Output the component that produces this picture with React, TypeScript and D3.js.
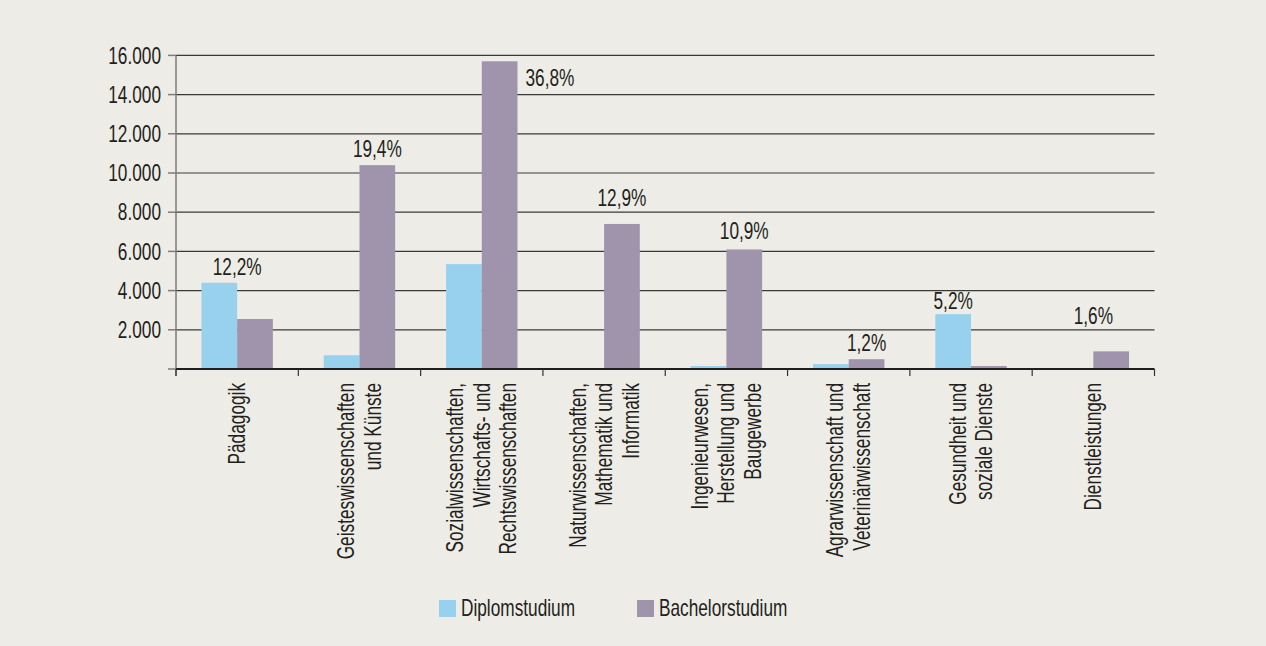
import React from "react";
import * as d3 from "d3";

const categories: string[][] = [
  ["Pädagogik"],
  ["Geisteswissenschaften", "und Künste"],
  ["Sozialwissenschaften,", "Wirtschafts- und", "Rechtswissenschaften"],
  ["Naturwissenschaften,", "Mathematik und", "Informatik"],
  ["Ingenieurwesen,", "Herstellung und", "Baugewerbe"],
  ["Agrarwissenschaft und", "Veterinärwissenschaft"],
  ["Gesundheit und", "soziale Dienste"],
  ["Dienstleistungen"],
];
const seriesNames = ["Diplomstudium", "Bachelorstudium"];
const diplom = [4400, 700, 5350, 0, 150, 250, 2800, 0];
const bachelor = [2550, 10400, 15700, 7400, 6100, 500, 150, 900];
const shareLabels = ["12,2%", "19,4%", "36,8%", "12,9%", "10,9%", "1,2%", "5,2%", "1,6%"];
const shareAnchor = ["group", "bachelor", "right", "bachelor", "bachelor", "bachelor", "diplom", "group"];
const shareLabelValue = [4800, 10800, 14450, 8300, 6650, 900, 3050, 2300];
const yTicks = [0, 2000, 4000, 6000, 8000, 10000, 12000, 14000, 16000];
const tickFormat = (v: number) => (v === 0 ? "" : d3.format(",")(v).replace(/,/g, "."));

const W = 1266;
const H = 646;
const colors = ["#98D1EE", "#A093AC"];
const FONT = "'Liberation Sans', Arial, sans-serif";
const TEXT = "#231F20";
const FS = 23;
const SX = 0.75;

function CText(props: { x: number; y: number; anchor?: "start" | "middle" | "end"; dy?: string; children: React.ReactNode }) {
  return (
    <text
      transform={`translate(${props.x},${props.y}) scale(${SX},1)`}
      textAnchor={props.anchor || "start"}
      dy={props.dy}
      fontSize={FS}
      fill={TEXT}
    >
      {props.children}
    </text>
  );
}

export default function App() {
  const left = 176;
  const right = 1154.5;
  const top = 55.4;
  const bottom = 369;
  const keys = categories.map((_, i) => String(i));
  const x0 = d3.scaleBand<string>().domain(keys).range([left, right]).paddingInner(0).paddingOuter(0);
  const x1 = d3.scaleBand<string>().domain(seriesNames).range([0, x0.bandwidth()]).paddingInner(0).paddingOuter(0.713);
  const y = d3.scaleLinear().domain([0, 16000]).range([bottom, top]);
  const values = [diplom, bachelor];
  const lh = 26.6;

  return (
    <div style={{ position: "fixed", left: 0, top: 0 }}>
      <svg width={W} height={H} style={{ display: "block", fontFamily: FONT }}>
        <rect x={0} y={0} width={W} height={H} fill="#EDECE6" />
        {/* gridlines */}
        {yTicks.filter((t) => t > 0).map((t) => (
          <line key={"g" + t} x1={left} x2={right} y1={y(t)} y2={y(t)} stroke="#3a3a3a" strokeWidth={1.2} />
        ))}
        {/* bars */}
        {keys.map((k, i) => (
          <g key={"b" + k} transform={`translate(${x0(k)},0)`}>
            {seriesNames.map((s, si) => {
              const v = values[si][i];
              if (v <= 0) return null;
              return (
                <rect key={s} x={x1(s)} y={y(v)} width={x1.bandwidth()} height={y(0) - y(v)} fill={colors[si]} />
              );
            })}
          </g>
        ))}
        {/* y axis */}
        <line x1={left} x2={left} y1={top} y2={bottom + 7} stroke="#7d7d7d" strokeWidth={1.5} />
        {yTicks.map((t) => (
          <g key={"yt" + t}>
            <line x1={left - 8} x2={left} y1={y(t)} y2={y(t)} stroke="#7d7d7d" strokeWidth={1.5} />
            <CText x={161} y={y(t)} dy="0.36em" anchor="end">
              {tickFormat(t)}
            </CText>
          </g>
        ))}
        {/* x axis */}
        <line x1={left} x2={right} y1={bottom} y2={bottom} stroke="#1e1e1e" strokeWidth={2} />
        {keys.concat(["end"]).map((k, i) => {
          const xx = k === "end" ? right : (x0(k) as number);
          return <line key={"xt" + i} x1={xx} x2={xx} y1={bottom} y2={bottom + 7} stroke="#333" strokeWidth={1.2} />;
        })}
        {/* category labels */}
        {keys.map((k, i) => {
          const cx = (x0(k) as number) + x0.bandwidth() / 2;
          const lines = categories[i];
          const n = lines.length;
          return (
            <text
              key={"cl" + k}
              transform={`translate(${cx},383) rotate(-90) scale(${SX},1)`}
              textAnchor="end"
              fontSize={FS}
              fill={TEXT}
            >
              {lines.map((ln, li) => (
                <tspan key={li} x={0} y={(li - (n - 1) / 2) * lh} dy="0.35em">
                  {ln}
                </tspan>
              ))}
            </text>
          );
        })}
        {/* share labels */}
        {keys.map((k, i) => {
          const base = x0(k) as number;
          const a = shareAnchor[i];
          let xx = base + x0.bandwidth() / 2;
          let anchor: "middle" | "start" = "middle";
          if (a === "bachelor") xx = base + (x1("Bachelorstudium") as number) + x1.bandwidth() / 2;
          if (a === "diplom") xx = base + (x1("Diplomstudium") as number) + x1.bandwidth() / 2;
          if (a === "right") {
            xx = base + (x1("Bachelorstudium") as number) + x1.bandwidth() + 8;
            anchor = "start";
          }
          return (
            <CText key={"sl" + k} x={xx} y={y(shareLabelValue[i])} anchor={anchor}>
              {shareLabels[i]}
            </CText>
          );
        })}
        {/* legend */}
        {seriesNames.map((s, si) => {
          const lx = si === 0 ? 439 : 637;
          return (
            <g key={"lg" + s}>
              <rect x={lx} y={600} width={17} height={17} fill={colors[si]} />
              <CText x={lx + 22} y={616}>
                {s}
              </CText>
            </g>
          );
        })}
      </svg>
    </div>
  );
}
